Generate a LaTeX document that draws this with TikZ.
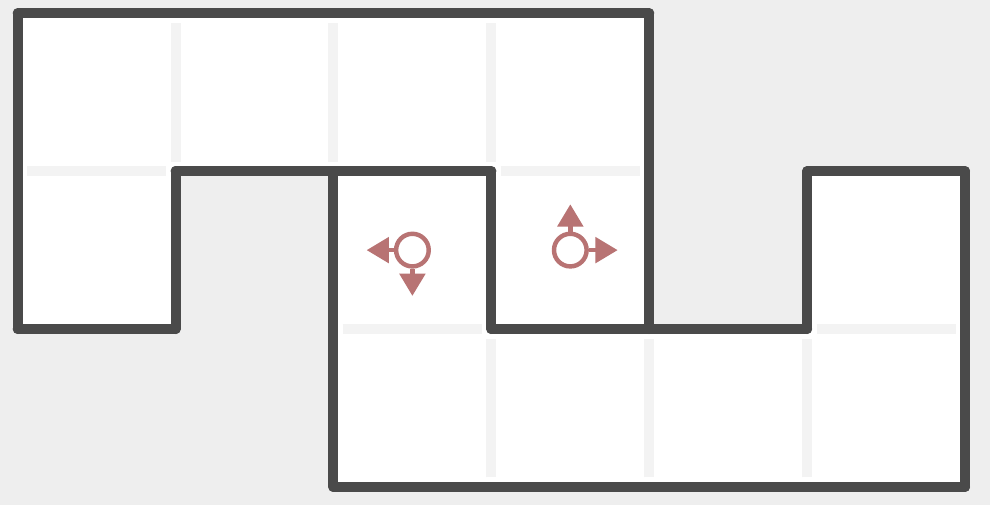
\documentclass[tikz,border=0pt]{standalone}
\usetikzlibrary{arrows.meta}
\definecolor{wallgray}{HTML}{4A4A4A}
\definecolor{floorgray}{HTML}{EEEEEE}
\definecolor{seamgray}{HTML}{F3F3F3}
\definecolor{moverose}{HTML}{B87373}
\tikzset{
  wall/.style={line width=2.7pt, color=wallgray, line cap=round},
  seam/.style={line width=2.7pt, color=seamgray, shorten <=0.09cm, shorten >=0.09cm},
  ring/.style={circle, draw=moverose, line width=1.2pt, inner sep=0pt, minimum size=0.31cm},
  move/.style={line width=1.2pt, color=moverose, -{Triangle[length=6pt,width=6.8pt]}}
}
\begin{document}
\begin{tikzpicture}[x=1.5cm, y=1.5cm]
			%%%%% START %%%%%
			
			\fill[floorgray] (-0.112, -0.114) rectangle (6.158, 3.084);
			\useasboundingbox (-0.112, -0.114) rectangle (6.158, 3.084);
			
			% cells
			\foreach \c/\r in {0/2, 1/2, 2/2, 3/2, 0/1, 2/1, 3/1, 5/1, 2/0, 3/0, 4/0, 5/0}
				\fill[white] (\c, \r) rectangle ++(1, 1);
			
			% open edges
			\foreach \a/\b/\c/\d in {0/2/1/2, 3/2/4/2, 2/1/3/1, 5/1/6/1, 1/2/1/3, 2/2/2/3, 3/2/3/3, 3/0/3/1, 4/0/4/1, 5/0/5/1}
				\draw[seam] (\a, \b) -- (\c, \d);
			
			% walls
			\foreach \a/\b/\c/\d in {0/3/1/3, 1/3/2/3, 2/3/3/3, 3/3/4/3, 4/3/4/2, 4/2/4/1, 4/1/5/1, 5/1/5/2, 5/2/6/2,
				6/2/6/1, 6/1/6/0, 6/0/5/0, 5/0/4/0, 4/0/3/0, 3/0/2/0, 2/0/2/1, 2/1/2/2, 2/2/1/2, 2/2/3/2,
				3/2/3/1, 3/1/4/1, 1/2/1/1, 1/1/0/1, 0/1/0/2, 0/2/0/3}
				\draw[wall] (\a, \b) -- (\c, \d);
			
			% moves
			\node[ring] (ringA) at (2.5, 1.5) {};
			\node[ring] (ringB) at (3.5, 1.5) {};
			\coordinate (leftA) at (2.21, 1.5);
			\coordinate (downA) at (2.5, 1.21);
			\coordinate (upB) at (3.5, 1.79);
			\coordinate (rightB) at (3.80, 1.5);
			\draw[move] (ringA.west) -- (leftA);
			\draw[move] (ringA.south) -- (downA);
			\draw[move] (ringB.north) -- (upB);
			\draw[move] (ringB.east) -- (rightB);
			
			%%%%% END %%%%%
\end{tikzpicture}
\end{document}
